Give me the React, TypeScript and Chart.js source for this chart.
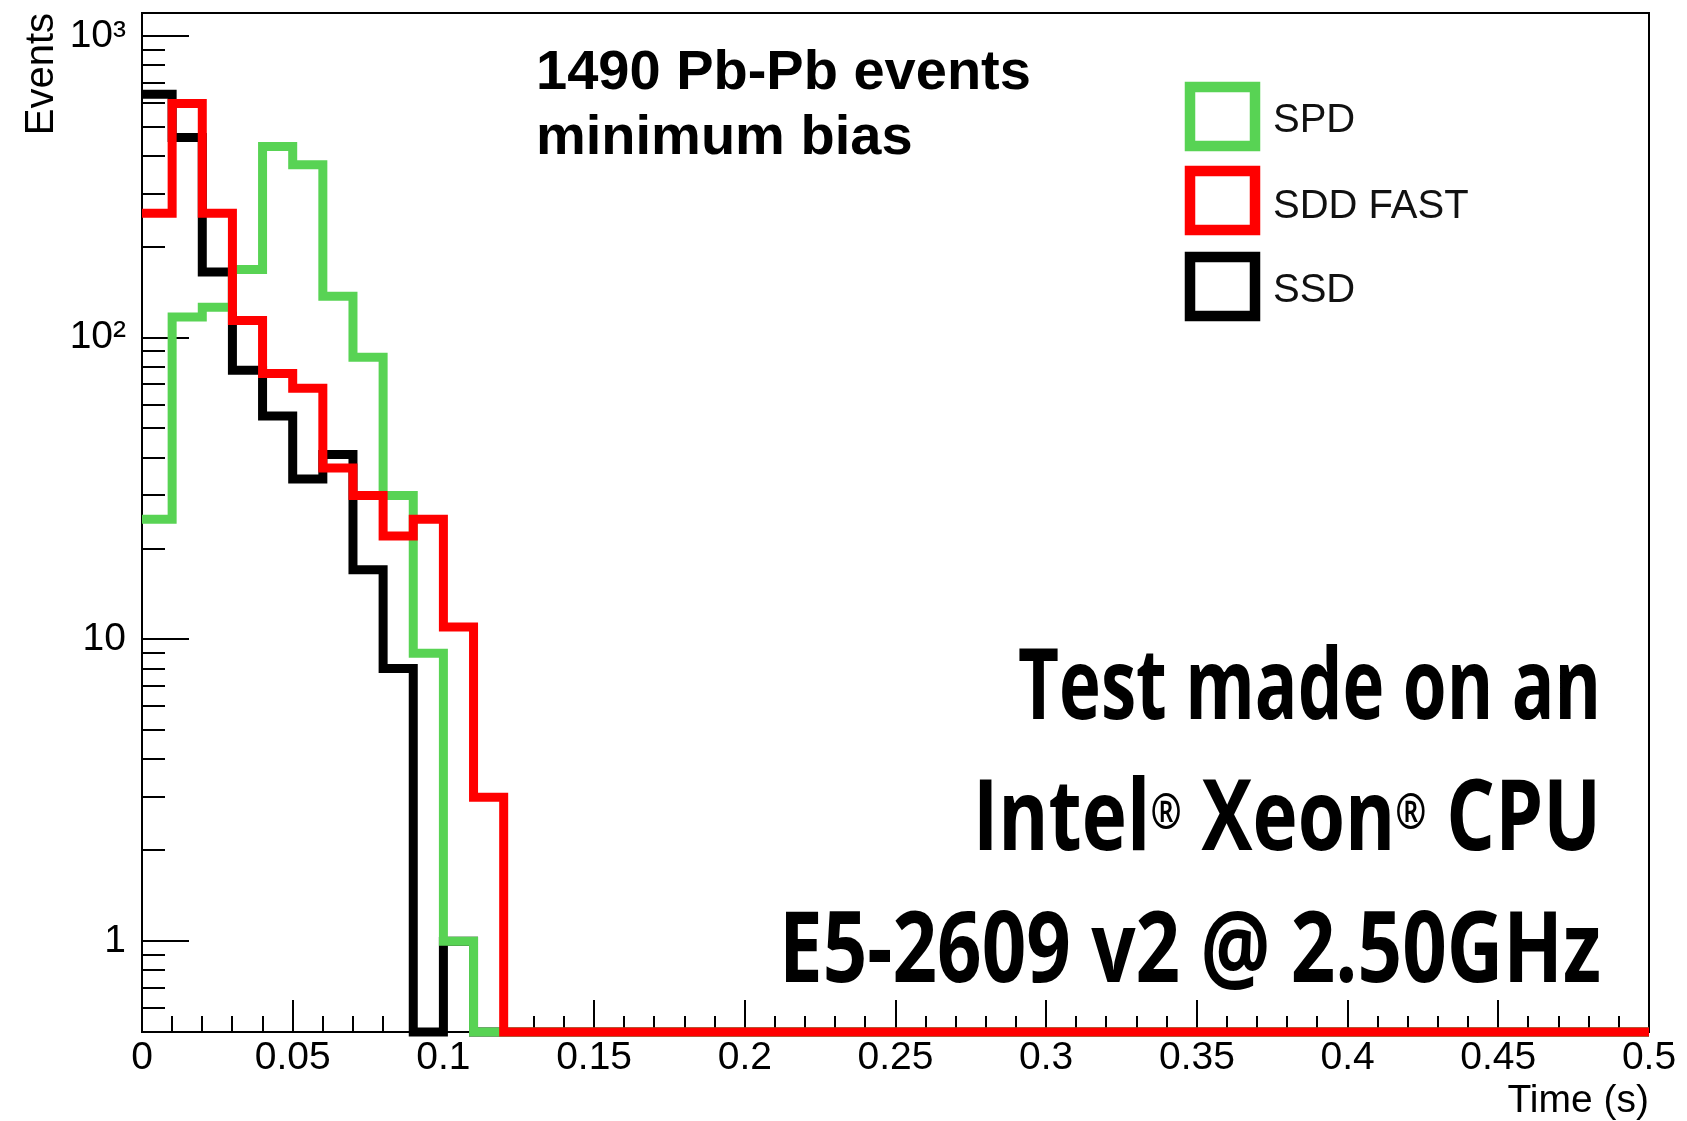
import React, { useEffect, useRef } from "react";
import { Chart, registerables } from "chart.js";

Chart.register(...registerables);

// ---------------- data ----------------
const BIN_WIDTH = 0.01; // s, histogram bin width
const X_MIN = 0;
const X_MAX = 0.5;
const Y_MIN = 0.5;
const Y_MAX = 1190;

const SERIES_LABELS = ["SPD", "SDD FAST", "SSD"];
const SERIES_COLORS = ["#58d354", "#ff0000", "#000000"];

// events per 0.01 s bin, bins 0..49 (0 - 0.5 s)
const SPD_COUNTS = [
  25, 117, 126, 168, 430, 374, 137, 86, 30, 9,
  1, 0, 0, 0, 0, 0, 0, 0, 0, 0,
  0, 0, 0, 0, 0, 0, 0, 0, 0, 0,
  0, 0, 0, 0, 0, 0, 0, 0, 0, 0,
  0, 0, 0, 0, 0, 0, 0, 0, 0, 0,
];
const SDD_FAST_COUNTS = [
  258, 597, 258, 114, 76, 68, 37, 30, 22, 25,
  11, 3, 0, 0, 0, 0, 0, 0, 0, 0,
  0, 0, 0, 0, 0, 0, 0, 0, 0, 0,
  0, 0, 0, 0, 0, 0, 0, 0, 0, 0,
  0, 0, 0, 0, 0, 0, 0, 0, 0, 0,
];
const SSD_COUNTS = [
  640, 460, 165, 78, 55, 34, 41, 17, 8, 0,
  1, 0, 0, 0, 0, 0, 0, 0, 0, 0,
  0, 0, 0, 0, 0, 0, 0, 0, 0, 0,
  0, 0, 0, 0, 0, 0, 0, 0, 0, 0,
  0, 0, 0, 0, 0, 0, 0, 0, 0, 0,
];

const X_TICK_VALUES = [0, 0.05, 0.1, 0.15, 0.2, 0.25, 0.3, 0.35, 0.4, 0.45, 0.5];
const X_TICK_LABELS = ["0", "0.05", "0.1", "0.15", "0.2", "0.25", "0.3", "0.35", "0.4", "0.45", "0.5"];
const Y_TICK_VALUES = [1, 10, 100, 1000];
const Y_TICK_LABELS = ["1", "10", "10\u00B2", "10\u00B3"];
const Y_MINOR_TICKS = [
  0.6, 0.7, 0.8, 0.9,
  2, 3, 4, 5, 6, 7, 8, 9,
  20, 30, 40, 50, 60, 70, 80, 90,
  200, 300, 400, 500, 600, 700, 800, 900,
];

const X_TITLE = "Time (s)";
const Y_TITLE = "Events";
const HEADER_LINES = ["1490 Pb-Pb events", "minimum bias"];
const NOTE_LINES = [
  [{ t: "Test made on an" }],
  [{ t: "Intel" }, { t: "\u00AE", sup: true }, { t: " Xeon" }, { t: "\u00AE", sup: true }, { t: " CPU" }],
  [{ t: "E5-2609 v2 @ 2.50GHz" }],
];

// ---------------- layout constants ----------------
const W = 1687;
const H = 1121;
const ROOT_FONT = '"Liberation Sans", Arial, Helvetica, sans-serif';
const NOTE_FONT = '"Open Sans", "Liberation Sans", sans-serif';

const toSteps = (counts: number[]) => {
  const pts = counts.map((c, i) => ({ x: X_MIN + i * BIN_WIDTH, y: c > 0 ? c : Y_MIN }));
  const last = counts[counts.length - 1];
  pts.push({ x: X_MIN + counts.length * BIN_WIDTH, y: last > 0 ? last : Y_MIN });
  return pts;
};

const X_MINOR_TICKS: number[] = [];
for (let i = 1; i < Math.round((X_MAX - X_MIN) / BIN_WIDTH); i++) {
  if (i % 5 !== 0) X_MINOR_TICKS.push(X_MIN + i * BIN_WIDTH);
}

const rootDecor = {
  id: "rootDecor",
  beforeDatasetsDraw(chart: any) {
    const { ctx, chartArea: a } = chart;
    const xs = chart.scales.x;
    const ys = chart.scales.y;
    ctx.save();
    ctx.strokeStyle = "#000";
    ctx.lineWidth = 2;
    ctx.beginPath();
    const L = Math.round(a.left);
    const B = Math.round(a.bottom);
    ctx.rect(L, Math.round(a.top), Math.round(a.right) - L, B - Math.round(a.top));
    const seg = (x1: number, y1: number, x2: number, y2: number) => {
      ctx.moveTo(x1, y1);
      ctx.lineTo(x2, y2);
    };
    Y_TICK_VALUES.forEach((v) => {
      const p = Math.round(ys.getPixelForValue(v));
      seg(L, p, L + 47, p);
    });
    Y_MINOR_TICKS.forEach((v) => {
      const p = Math.round(ys.getPixelForValue(v));
      seg(L, p, L + 23, p);
    });
    X_TICK_VALUES.forEach((v) => {
      const p = Math.round(xs.getPixelForValue(v));
      seg(p, B, p, B - 32);
    });
    X_MINOR_TICKS.forEach((v) => {
      const p = Math.round(xs.getPixelForValue(v));
      seg(p, B, p, B - 16);
    });
    ctx.stroke();
    ctx.restore();
  },
  afterDatasetsDraw(chart: any) {
    const { ctx, chartArea: a } = chart;
    ctx.save();
    ctx.textBaseline = "alphabetic";

    // axis titles
    ctx.fillStyle = "#000";
    ctx.font = `40px ${ROOT_FONT}`;
    ctx.save();
    ctx.translate(53, a.top);
    ctx.rotate(-Math.PI / 2);
    ctx.textAlign = "right";
    ctx.fillText(Y_TITLE, 0, 0);
    ctx.restore();
    ctx.font = `39px ${ROOT_FONT}`;
    ctx.textAlign = "right";
    ctx.fillText(X_TITLE, a.right, 1112);

    // header
    ctx.textAlign = "left";
    ctx.font = `bold 56px ${ROOT_FONT}`;
    const headerBase = [89, 154];
    HEADER_LINES.forEach((t, i) => ctx.fillText(t, 536, headerBase[i]));

    // legend
    const boxTops = [87, 171, 257];
    const textBase = [132, 218, 302];
    ctx.lineJoin = "miter";
    ctx.lineWidth = 10.5;
    chart.data.datasets.forEach((ds: any, i: number) => {
      ctx.fillStyle = "#fff";
      ctx.fillRect(1190, boxTops[i], 65, 59);
      ctx.strokeStyle = ds.borderColor;
      ctx.strokeRect(1190, boxTops[i], 65, 59);
      ctx.fillStyle = "#111";
      ctx.font = `40px ${ROOT_FONT}`;
      ctx.fillText(ds.label, 1273, textBase[i]);
    });

    // note (condensed bold)
    const noteBase = [719, 850, 982];
    const noteW = [583, 628, 822];
    const right = 1601;
    const size = 98;
    const supSize = 48;
    const supRaise = 21;
    NOTE_LINES.forEach((segs: any[], li: number) => {
      const widths = segs.map((s) => {
        ctx.font = s.sup ? `bold ${supSize}px ${NOTE_FONT}` : `bold ${size}px ${NOTE_FONT}`;
        return ctx.measureText(s.t).width;
      });
      const total = widths.reduce((p, c) => p + c, 0);
      const k = noteW[li] / total;
      ctx.save();
      ctx.translate(right - noteW[li], noteBase[li]);
      ctx.scale(k, 1);
      ctx.fillStyle = "#000";
      let x = 0;
      segs.forEach((s, si) => {
        ctx.font = s.sup ? `bold ${supSize}px ${NOTE_FONT}` : `bold ${size}px ${NOTE_FONT}`;
        ctx.fillText(s.t, x, s.sup ? -supRaise : 0);
        x += widths[si];
      });
      ctx.restore();
    });
    ctx.restore();
  },
};

export default function App() {
  const ref = useRef<HTMLCanvasElement | null>(null);

  useEffect(() => {
    document.body.style.margin = "0";
    document.body.style.background = "#fff";
    const canvas = ref.current;
    if (!canvas) return;
    const counts = [SPD_COUNTS, SDD_FAST_COUNTS, SSD_COUNTS];
    const drawOrder = [2, 1, 3];
    const chart = new Chart(canvas, {
      type: "line",
      data: {
        datasets: counts.map((c, i) => ({
          label: SERIES_LABELS[i],
          data: toSteps(c),
          borderColor: SERIES_COLORS[i],
          backgroundColor: SERIES_COLORS[i],
          borderWidth: 9,
          stepped: "before",
          fill: false,
          pointRadius: 0,
          borderJoinStyle: "miter",
          borderCapStyle: "butt",
          order: drawOrder[i],
          clip: { left: 0, right: 0, top: 10, bottom: 10 },
        })),
      },
      options: {
        responsive: false,
        animation: false,
        events: [],
        layout: { padding: { left: 0, top: 13, right: 38, bottom: 0 } },
        plugins: { legend: { display: false }, tooltip: { enabled: false } },
        scales: {
          x: {
            type: "linear",
            min: X_MIN,
            max: X_MAX,
            afterFit: (s: any) => {
              s.height = 89;
              s.paddingLeft = 0;
              s.paddingRight = 0;
            },
            afterBuildTicks: (s: any) => {
              s.ticks = X_TICK_VALUES.map((v) => ({ value: v }));
            },
            grid: { display: false, drawTicks: false },
            border: { display: false },
            ticks: {
              autoSkip: false,
              maxRotation: 0,
              minRotation: 0,
              padding: 3,
              color: "#000",
              font: { family: ROOT_FONT, size: 39, lineHeight: 1.2 },
              callback: (_v: any, i: number) => X_TICK_LABELS[i],
            },
          },
          y: {
            type: "logarithmic",
            min: Y_MIN,
            max: Y_MAX,
            afterFit: (s: any) => {
              s.width = 142;
              s.paddingTop = 0;
              s.paddingBottom = 0;
            },
            afterBuildTicks: (s: any) => {
              s.ticks = Y_TICK_VALUES.map((v) => ({ value: v }));
            },
            grid: { display: false, drawTicks: false },
            border: { display: false },
            ticks: {
              autoSkip: false,
              padding: 16,
              color: "#000",
              font: { family: ROOT_FONT, size: 39, lineHeight: 1.2 },
              callback: (_v: any, i: number) => Y_TICK_LABELS[i],
            },
          },
        },
      },
      plugins: [rootDecor],
    } as any);
    return () => chart.destroy();
  }, []);

  return (
    <div style={{ position: "absolute", left: 0, top: 0, width: W, height: H, background: "#fff" }}>
      <canvas ref={ref} width={W} height={H} style={{ display: "block", width: W, height: H }} />
    </div>
  );
}
